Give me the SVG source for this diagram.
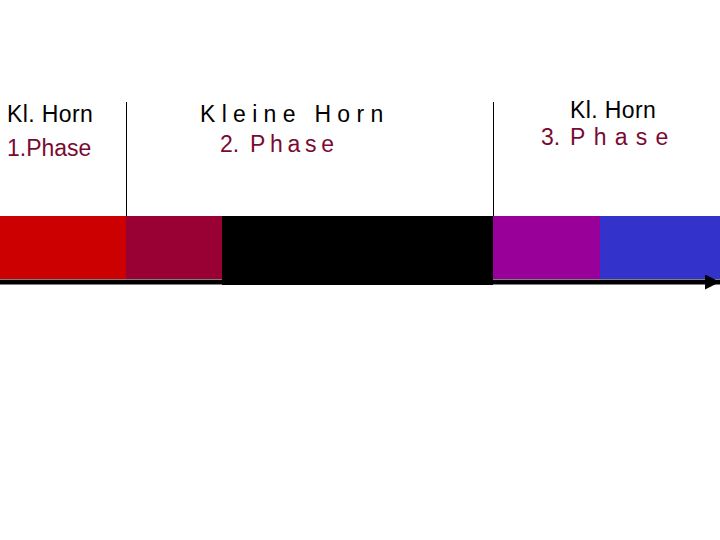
<svg xmlns="http://www.w3.org/2000/svg" width="720" height="540" viewBox="0 0 720 540">
<style>
  text { font-family: "Liberation Sans", Arial, sans-serif; font-size: 23px; }
  .title { fill: #000000; }
  .phase { fill: #7a0a33; }
  .divider { stroke: #000000; stroke-width: 1; }
</style>
<defs>
  <marker id="arrow" markerUnits="userSpaceOnUse" markerWidth="16" markerHeight="16" refX="15" refY="7.5" orient="auto">
    <path d="M0,0 L15,7.5 L0,15 Z" fill="#000000"/>
  </marker>
</defs>
<rect width="720" height="540" fill="#ffffff"/>
<g id="bar">
  <rect x="0" y="216" width="126" height="63" fill="#cc0000"/>
  <rect x="126" y="216" width="96" height="63" fill="#990033"/>
  <rect x="222" y="216" width="271" height="69" fill="#000000"/>
  <rect x="493" y="216" width="107" height="63" fill="#990099"/>
  <rect x="600" y="216" width="120" height="63" fill="#3333cc"/>
</g>
<g id="connectors">
  <line class="divider" x1="126.5" y1="102" x2="126.5" y2="216"/>
  <line class="divider" x1="493.5" y1="102" x2="493.5" y2="216"/>
  <line x1="0" y1="282" x2="720" y2="282" stroke="#000000" stroke-width="5" marker-end="url(#arrow)"/>
</g>
<g id="phase1">
  <text class="title" x="7" y="122" letter-spacing="0.4">Kl. Horn</text>
  <text class="phase" x="7" y="156">1.Phase</text>
</g>
<g id="phase2">
  <text class="title" x="200" y="122" letter-spacing="6.3">Kleine Horn</text>
  <text class="phase" x="220" y="152">2.<tspan x="250" letter-spacing="4.7">Phase</tspan></text>
</g>
<g id="phase3">
  <text class="title" x="570" y="118" letter-spacing="0.4">Kl. Horn</text>
  <text class="phase" x="541" y="145">3.<tspan x="570" letter-spacing="8.3">Phase</tspan></text>
</g>
</svg>
